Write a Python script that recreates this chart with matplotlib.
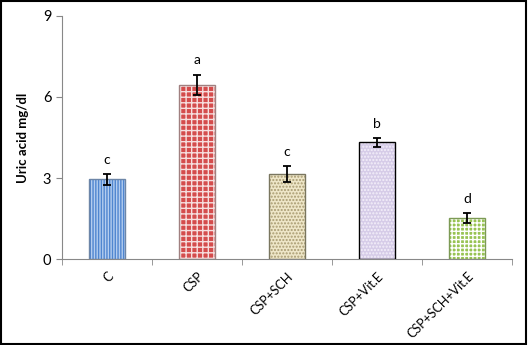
import numpy as np
import matplotlib
matplotlib.use("Agg")
import matplotlib.pyplot as plt
from matplotlib.patches import Rectangle

plt.rcParams['font.family'] = ['Lato', 'DejaVu Sans']

groups = ['C', 'CSP', 'CSP+SCH', 'CSP+Vit.E', 'CSP+SCH+Vit.E']
uric_acid = [2.95, 6.45, 3.15, 4.32, 1.53]
sem = [0.19, 0.38, 0.29, 0.17, 0.19]
letters = ['c', 'a', 'c', 'b', 'd']

face_colors = ['#b4cdef', '#d44c4c', '#eee6c8', '#d6cce8', '#98c353']
hatch_colors = ['#4f86d0', '#f6dede', '#a89a70', '#f4f0fa', '#ffffff']
hatches = ['||||||', '+++', '.....', '.....', '++++']
edge_colors = ['#6d86a8', '#a08080', '#7a7660', '#000000', '#7c9a55']

fig = plt.figure(figsize=(5.28, 3.45), dpi=100)
ax = fig.add_axes([0.117, 0.249, 0.853, 0.705])

x = np.arange(len(groups))
w = 0.4
for i in x:
    ax.bar(i, uric_acid[i], width=w, color=face_colors[i], hatch=hatches[i],
           edgecolor=hatch_colors[i], linewidth=0, zorder=2)
    ax.bar(i, uric_acid[i], width=w, fill=False, edgecolor=edge_colors[i],
           linewidth=1.0, zorder=3)

ax.errorbar(x, uric_acid, yerr=sem, fmt='none', ecolor='black', elinewidth=1.3,
            capsize=3, capthick=1.3, zorder=4)

for i in x:
    ax.text(i, uric_acid[i] + sem[i] + 0.3, letters[i], ha='center', va='bottom',
            fontsize=10)

ax.set_xlim(-0.5, len(groups) - 0.5)
ax.set_ylim(0, 9)
ax.set_yticks([0, 3, 6, 9])
ax.set_xticks(x)
ax.set_xticklabels(groups, rotation=45, ha='right', va='top', rotation_mode='anchor',
                   fontsize=9)
ax.set_xticks(np.arange(len(groups) + 1) - 0.5, minor=True)
ax.tick_params(axis='x', which='major', length=0, pad=8)
ax.tick_params(axis='x', which='minor', length=4, color='#888888')
ax.tick_params(axis='y', length=4, color='#888888', labelsize=10.5)
ax.set_ylabel('Uric acid mg/dl', fontsize=9.5, fontweight='bold', labelpad=10)

for s in ['top', 'right']:
    ax.spines[s].set_visible(False)
for s in ['left', 'bottom']:
    ax.spines[s].set_color('#888888')

fig.patches.append(Rectangle((0.002, 0.003), 0.995, 0.994, transform=fig.transFigure,
                             fill=False, edgecolor='black', linewidth=1.5))

fig.savefig('out.png', dpi=100)
